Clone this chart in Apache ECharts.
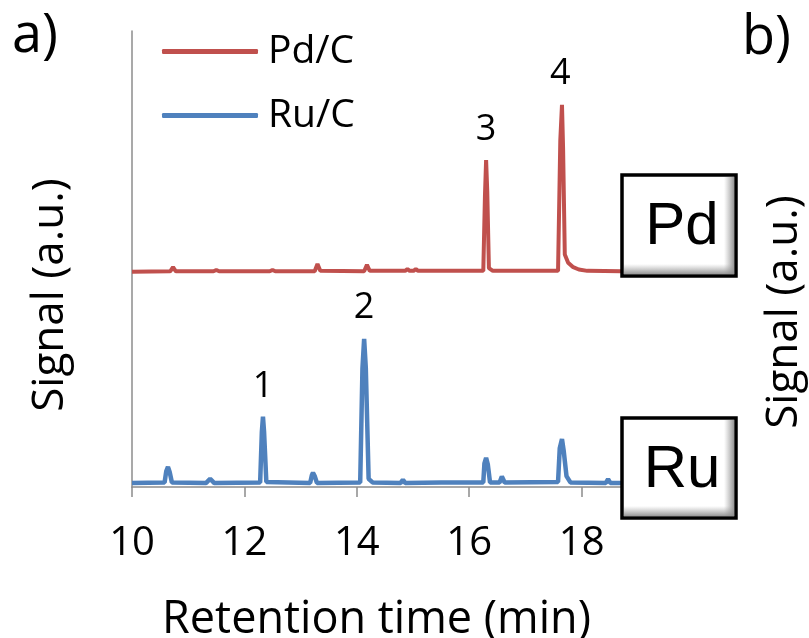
<!DOCTYPE html>
<html>
<head>
<meta charset="utf-8">
<script src="https://cdn.jsdelivr.net/npm/echarts@6/dist/echarts.min.js"></script>
<style>
  html, body { margin: 0; padding: 0; background: #fff; }
  #chart { width: 809px; height: 638px; }
</style>
</head>
<body>
<div id="chart"></div>
<script>
// retention time (min), signal (a.u.)
var pdTrace = [
    [10.0, 4.72], [10.68, 4.73], [10.73, 4.82], [10.78, 4.73], [11.45, 4.73], [11.5, 4.76], [11.55, 4.73],
    [12.45, 4.73], [12.5, 4.76], [12.55, 4.73], [13.25, 4.73], [13.3, 4.89], [13.35, 4.74],
    [14.13, 4.73], [14.18, 4.87], [14.23, 4.74], [14.86, 4.74], [14.9, 4.78], [14.94, 4.74],
    [15.01, 4.74], [15.05, 4.78], [15.09, 4.74], [15.6, 4.74],
    [16.25, 4.74], [16.28, 6.4], [16.3, 7.17], [16.32, 6.5], [16.35, 4.8], [16.42, 4.74],
    [17.58, 4.74], [17.62, 7.6], [17.65, 8.38], [17.67, 7.4], [17.7, 5.1], [17.76, 4.92],
    [17.85, 4.82], [17.95, 4.77], [18.1, 4.74], [18.7, 4.73]
];
var ruTrace = [
    [10.0, 0.09], [10.58, 0.1], [10.61, 0.35], [10.64, 0.44], [10.67, 0.33], [10.71, 0.1],
    [11.32, 0.09], [11.39, 0.18], [11.46, 0.09], [12.28, 0.1], [12.31, 1.2], [12.33, 1.54],
    [12.35, 1.2], [12.39, 0.11], [13.17, 0.09], [13.2, 0.26], [13.22, 0.31], [13.25, 0.24],
    [13.29, 0.09], [14.06, 0.1], [14.1, 2.6], [14.13, 3.25], [14.16, 2.6], [14.21, 0.18],
    [14.28, 0.1], [14.78, 0.09], [14.82, 0.16], [14.86, 0.09], [15.5, 0.1], [16.25, 0.1],
    [16.27, 0.52], [16.3, 0.64], [16.33, 0.5], [16.37, 0.1], [16.54, 0.1], [16.58, 0.23],
    [16.63, 0.1], [17.58, 0.11], [17.61, 0.85], [17.65, 1.05], [17.68, 0.8], [17.73, 0.24],
    [17.8, 0.1], [18.43, 0.09], [18.47, 0.17], [18.51, 0.09], [18.7, 0.09]
];
// peak numbers and where their labels sit
var pdPeaks = [['3', 16.3, 7.83], ['4', 17.62, 9.06]];
var ruPeaks = [['1', 12.33, 2.19], ['2', 14.13, 3.93]];

var chart = echarts.init(document.getElementById('chart'));

var font = 'Open Sans';

function peakMarks(list) {
    return {
        symbol: 'rect',
        symbolSize: 1,
        itemStyle: { color: 'rgba(0,0,0,0)' },
        label: {
            show: true,
            position: 'inside',
            formatter: '{b}',
            color: '#000',
            fontFamily: font,
            fontSize: 36
        },
        data: list.map(function (p) {
            return { name: p[0], coord: [p[1], p[2]] };
        })
    };
}

function labelBox(x, y, w, h, text) {
    return [{
        type: 'rect', z: 10,
        shape: { x: x, y: y, width: w, height: h },
        style: { fill: '#fff', stroke: '#000', lineWidth: 3.5 }
    }, {
        type: 'rect', z: 11,
        shape: { x: x + w - 12, y: y + 2, width: 10, height: h - 4 },
        style: {
            fill: new echarts.graphic.LinearGradient(0, 0, 1, 0, [
                { offset: 0, color: 'rgba(160,160,160,0)' },
                { offset: 1, color: 'rgba(140,140,140,0.9)' }
            ])
        }
    }, {
        type: 'rect', z: 11,
        shape: { x: x + 2, y: y + h - 12, width: w - 4, height: 10 },
        style: {
            fill: new echarts.graphic.LinearGradient(0, 0, 0, 1, [
                { offset: 0, color: 'rgba(160,160,160,0)' },
                { offset: 1, color: 'rgba(140,140,140,0.9)' }
            ])
        }
    }, {
        type: 'text', z: 12,
        x: x + w / 2 + 3, y: y + h / 2 + 2,
        style: {
            text: text, fill: '#000', font: '60px "Liberation Sans"',
            align: 'center', verticalAlign: 'middle'
        }
    }];
}

var option = {
    backgroundColor: '#fff',
    animation: false,
    grid: {
        left: 132, right: 809 - 621, top: 31, bottom: 638 - 487,
        outerBoundsMode: 'none'
    },
    legend: {
        orient: 'vertical',
        left: 162,
        top: 32,
        padding: 0,
        itemWidth: 96,
        itemHeight: 5,
        itemGap: 25,
        icon: 'roundRect',
        data: ['Pd/C', 'Ru/C'],
        textStyle: { color: '#000', fontFamily: font, fontSize: 39, padding: [0, 0, 0, 5] }
    },
    xAxis: {
        type: 'value',
        min: 10,
        max: 18.7,
        interval: 2,
        name: 'Retention time (min)',
        nameLocation: 'middle',
        nameGap: 111,
        nameTextStyle: { color: '#000', fontFamily: font, fontSize: 45 },
        axisLine: { lineStyle: { color: '#8c8c8c', width: 1.5 } },
        axisTick: { show: true, inside: false, length: 10, lineStyle: { color: '#8c8c8c', width: 1.5 } },
        axisLabel: {
            color: '#000', fontFamily: font, fontSize: 40, margin: 37,
            showMaxLabel: false,
            formatter: function (v) { return v % 2 === 0 ? String(v) : ''; }
        },
        splitLine: { show: false }
    },
    yAxis: {
        type: 'value',
        min: 0,
        max: 10,
        axisLine: { show: true, lineStyle: { color: '#8c8c8c', width: 1.5 } },
        axisTick: { show: false },
        axisLabel: { show: false },
        splitLine: { show: false }
    },
    series: [{
        name: 'Pd/C',
        type: 'line',
        data: pdTrace,
        symbol: 'none',
        color: '#C0504D',
        lineStyle: { color: '#C0504D', width: 4 },
        markPoint: peakMarks(pdPeaks)
    }, {
        name: 'Ru/C',
        type: 'line',
        data: ruTrace,
        symbol: 'none',
        color: '#4F81BD',
        lineStyle: { color: '#4F81BD', width: 4.5 },
        markPoint: peakMarks(ruPeaks)
    }],
    graphic: [].concat(
        labelBox(622, 175, 114, 101, 'Pd'),
        labelBox(622, 418, 114, 100, 'Ru'),
        [{
            type: 'text', x: 12, y: 10,
            style: { text: 'a)', fill: '#000', font: '54px "Open Sans"' }
        }, {
            type: 'text', x: 742, y: 12,
            style: { text: 'b)', fill: '#000', font: '54px "Open Sans"' }
        }, {
            type: 'text', x: 50, y: 295, rotation: Math.PI / 2,
            style: { text: 'Signal (a.u.)', fill: '#000', font: '44px "Open Sans"', align: 'center', verticalAlign: 'middle' }
        }, {
            type: 'text', x: 784, y: 312, rotation: Math.PI / 2,
            style: { text: 'Signal (a.u.)', fill: '#000', font: '44px "Open Sans"', align: 'center', verticalAlign: 'middle' }
        }]
    )
};

chart.setOption(option);
</script>
</body>
</html>
